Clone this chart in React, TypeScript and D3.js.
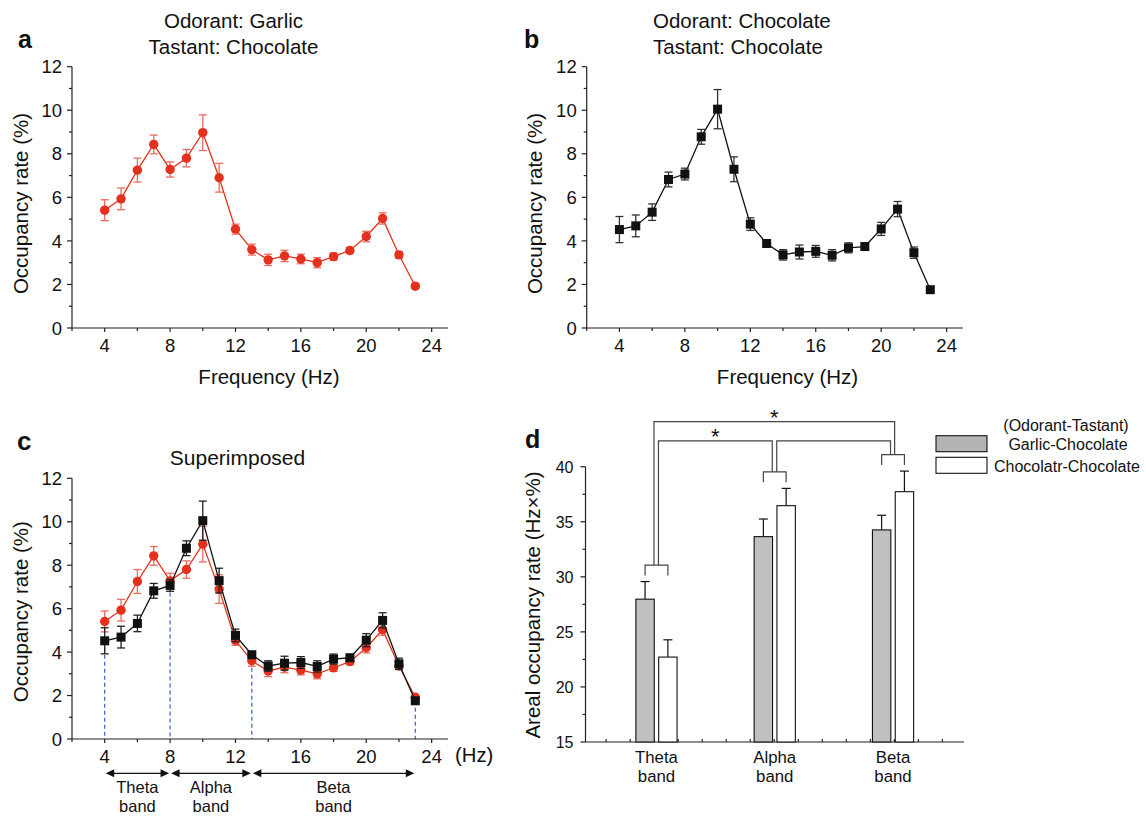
import React, { useEffect, useRef } from 'react';
import * as d3 from 'd3';

// frequency-resolved occupancy (mean ± SEM)
const freqs = [4, 5, 6, 7, 8, 9, 10, 11, 12, 13, 14, 15, 16, 17, 18, 19, 20, 21, 22, 23];
const garlicMean = [5.41, 5.93, 7.25, 8.43, 7.28, 7.8, 8.97, 6.9, 4.54, 3.6, 3.13, 3.31, 3.17, 3.0, 3.28, 3.56, 4.2, 5.03, 3.36, 1.92];
const garlicErr = [0.48, 0.5, 0.55, 0.43, 0.35, 0.4, 0.82, 0.66, 0.23, 0.25, 0.26, 0.26, 0.22, 0.23, 0.17, 0.14, 0.24, 0.26, 0.15, 0.1];
const chocoMean = [4.52, 4.69, 5.32, 6.82, 7.07, 8.78, 10.05, 7.29, 4.77, 3.88, 3.36, 3.49, 3.52, 3.34, 3.68, 3.74, 4.55, 5.46, 3.46, 1.76];
const chocoErr = [0.6, 0.5, 0.38, 0.34, 0.27, 0.34, 0.9, 0.57, 0.29, 0.1, 0.24, 0.32, 0.27, 0.26, 0.23, 0.15, 0.3, 0.35, 0.26, 0.1];

const freqMajorTicks = [4, 8, 12, 16, 20, 24];
const freqMinorTicks = [2, 6, 10, 14, 18, 22];
const rateMajorTicks = [0, 2, 4, 6, 8, 10, 12];
const rateMinorTicks = [1, 3, 5, 7, 9, 11];

// band summary (panel d)
const bandNames = ['Theta', 'Alpha', 'Beta'];
const bandStart = [4, 8, 13];
const bandEnd = [8, 13, 23];
const areaGarlic = [27.97, 33.65, 34.26];
const areaGarlicErr = [1.6, 1.6, 1.33];
const areaChoco = [22.71, 36.46, 37.73];
const areaChocoErr = [1.57, 1.57, 1.87];
const areaMajorTicks = [15, 20, 25, 30, 35, 40];
const areaMinorTicks = [17.5, 22.5, 27.5, 32.5, 37.5];

// significance brackets
const sigFrom = ['Theta', 'Theta', 'Alpha'];
const sigTo = ['Beta', 'Alpha', 'Beta'];
const sigLevel = [44.1, 42.35, 42.35];
const sigMark = ['*', '*', ''];

const legendTitle = '(Odorant-Tastant)';
const legendLabels = ['Garlic-Chocolate', 'Chocolatr-Chocolate'];

const FONT = "'Liberation Sans', Arial, Helvetica, sans-serif";
const RED = '#e3311e';
const RED_ERR = '#ea6d60';
const BLACK = '#111';

function drawRateAxes(g, x, y) {
  const [x0, x1] = x.range();
  const y0 = y(0);
  const axis = g.append('g').attr('stroke', '#222').attr('stroke-width', 1.2);
  axis.append('line').attr('x1', x0).attr('x2', x1).attr('y1', y0).attr('y2', y0);
  axis.append('line').attr('x1', x0).attr('x2', x0).attr('y1', y0).attr('y2', y(12));
  freqMajorTicks.forEach((t) => {
    axis.append('line').attr('x1', x(t)).attr('x2', x(t)).attr('y1', y0).attr('y2', y0 + 4);
  });
  freqMinorTicks.forEach((t) => {
    axis.append('line').attr('x1', x(t)).attr('x2', x(t)).attr('y1', y0).attr('y2', y0 + 3);
  });
  rateMajorTicks.forEach((t) => {
    axis.append('line').attr('x1', x0 - 5).attr('x2', x0).attr('y1', y(t)).attr('y2', y(t));
  });
  rateMinorTicks.forEach((t) => {
    axis.append('line').attr('x1', x0 - 3).attr('x2', x0).attr('y1', y(t)).attr('y2', y(t));
  });

  const labels = g.append('g').attr('font-family', FONT).attr('font-size', 18.5).attr('fill', '#111');
  freqMajorTicks.forEach((t) => {
    labels.append('text').attr('x', x(t)).attr('y', y0 + 23.5).attr('text-anchor', 'middle').text(t);
  });
  rateMajorTicks.forEach((t) => {
    labels.append('text').attr('x', x0 - 10).attr('y', y(t)).attr('dy', '0.36em').attr('text-anchor', 'end').text(t);
  });
}

function drawSeries(g, x, y, means, errs, color, errColor, shape) {
  const pts = freqs.map((f, i) => ({ f, m: means[i], e: errs[i] }));
  const line = d3.line().x((d) => x(d.f)).y((d) => y(d.m));
  g.append('path').datum(pts).attr('d', line).attr('fill', 'none').attr('stroke', color).attr('stroke-width', 1.3);

  const eb = g.append('g').attr('stroke', errColor).attr('stroke-width', 1.3);
  pts.forEach((d) => {
    const cx = x(d.f);
    eb.append('line').attr('x1', cx).attr('x2', cx).attr('y1', y(d.m - d.e)).attr('y2', y(d.m + d.e));
    eb.append('line').attr('x1', cx - 4).attr('x2', cx + 4).attr('y1', y(d.m - d.e)).attr('y2', y(d.m - d.e));
    eb.append('line').attr('x1', cx - 4).attr('x2', cx + 4).attr('y1', y(d.m + d.e)).attr('y2', y(d.m + d.e));
  });

  if (shape === 'circle') {
    g.append('g').selectAll('circle').data(pts).enter().append('circle')
      .attr('cx', (d) => x(d.f)).attr('cy', (d) => y(d.m)).attr('r', 4.7).attr('fill', color);
  } else {
    g.append('g').selectAll('rect').data(pts).enter().append('rect')
      .attr('x', (d) => x(d.f) - 4.5).attr('y', (d) => y(d.m) - 4.5)
      .attr('width', 9).attr('height', 9).attr('fill', color);
  }
}

function yLabel(svg, cx, cy, text, size) {
  svg.append('text')
    .attr('transform', `translate(${cx},${cy}) rotate(-90)`)
    .attr('text-anchor', 'middle').attr('font-family', FONT).attr('font-size', size).attr('fill', '#111')
    .text(text);
}

function plainText(svg, x, y, text, size, anchor = 'middle', weight = 'normal') {
  svg.append('text').attr('x', x).attr('y', y).attr('text-anchor', anchor)
    .attr('font-family', FONT).attr('font-size', size).attr('font-weight', weight).attr('fill', '#111')
    .text(text);
}

const App = () => {
  const ref = useRef(null);

  useEffect(() => {
    const svg = d3.select(ref.current);
    svg.selectAll('*').remove();

    // ---------- panel a ----------
    const xa = d3.scaleLinear().domain([2, 25]).range([72, 448]);
    const ya = d3.scaleLinear().domain([0, 12]).range([328, 66.7]);
    const ga = svg.append('g');
    drawRateAxes(ga, xa, ya);
    drawSeries(ga, xa, ya, garlicMean, garlicErr, RED, RED_ERR, 'circle');
    plainText(svg, 18, 48, 'a', 25, 'start', 'bold');
    plainText(svg, 233.5, 27.5, 'Odorant: Garlic', 20.5);
    plainText(svg, 233.5, 53.5, 'Tastant: Chocolate', 20.5);
    plainText(svg, 269, 383.5, 'Frequency (Hz)', 20.5);
    yLabel(svg, 27.5, 203.5, 'Occupancy rate (%)', 20.5);

    // ---------- panel b ----------
    const xb = d3.scaleLinear().domain([2, 25]).range([586.7, 963]);
    const yb = d3.scaleLinear().domain([0, 12]).range([328, 66.7]);
    const gb = svg.append('g');
    drawRateAxes(gb, xb, yb);
    drawSeries(gb, xb, yb, chocoMean, chocoErr, BLACK, '#333', 'square');
    plainText(svg, 524, 48, 'b', 25, 'start', 'bold');
    plainText(svg, 653, 27.5, 'Odorant: Chocolate', 20.5, 'start');
    plainText(svg, 653, 53.5, 'Tastant: Chocolate', 20.5, 'start');
    plainText(svg, 787.5, 383.5, 'Frequency (Hz)', 20.5);
    yLabel(svg, 542, 203.5, 'Occupancy rate (%)', 20.5);

    // ---------- panel c ----------
    const xc = d3.scaleLinear().domain([2, 25]).range([72, 448]);
    const yc = d3.scaleLinear().domain([0, 12]).range([739, 478.3]);
    const gc = svg.append('g');
    const edges = Array.from(new Set([...bandStart, ...bandEnd])).sort((p, q) => p - q);
    edges.forEach((f) => {
      const i = freqs.indexOf(f);
      const top = Math.min(garlicMean[i], chocoMean[i]);
      gc.append('line').attr('x1', xc(f)).attr('x2', xc(f)).attr('y1', yc(top)).attr('y2', yc(0))
        .attr('stroke', '#3b5fc8').attr('stroke-width', 1.2).attr('stroke-dasharray', '4,3');
    });
    drawRateAxes(gc, xc, yc);
    drawSeries(gc, xc, yc, garlicMean, garlicErr, RED, RED_ERR, 'circle');
    drawSeries(gc, xc, yc, chocoMean, chocoErr, BLACK, '#222', 'square');
    plainText(svg, 17, 450, 'c', 26, 'start', 'bold');
    plainText(svg, 237.5, 465, 'Superimposed', 21);
    plainText(svg, 455, 762, '(Hz)', 20.3, 'start');
    yLabel(svg, 27.5, 611.7, 'Occupancy rate (%)', 20.5);

    // band arrows
    const arrowY = 773.3;
    const ga2 = svg.append('g');
    bandNames.forEach((name, i) => {
      const xs = xc(bandStart[i]) + 1;
      const xe = xc(bandEnd[i]) - 1;
      ga2.append('line').attr('x1', xs + 4).attr('x2', xe - 4).attr('y1', arrowY).attr('y2', arrowY)
        .attr('stroke', '#111').attr('stroke-width', 1.3);
      ga2.append('path').attr('d', `M${xs},${arrowY} l8.5,-4 l0,8 Z`).attr('fill', '#111');
      ga2.append('path').attr('d', `M${xe},${arrowY} l-8.5,-4 l0,8 Z`).attr('fill', '#111');
      const mid = xc((bandStart[i] + bandEnd[i]) / 2);
      plainText(svg, mid, 793, name, 16.5);
      plainText(svg, mid, 811.5, 'band', 16.5);
    });

    // ---------- panel d ----------
    const yd = d3.scaleLinear().domain([15, 40]).range([742, 466.7]);
    const xd = d3.scalePoint().domain(bandNames).range([585.5, 964]).padding(0.6);
    const [dl, dr] = xd.range();
    const gd = svg.append('g');
    const barW = 18.4;
    const gap = 2.2;

    // x axis minor ticks
    const xMinor = d3.scaleLinear().domain([-0.86, 14.9]).range([dl, dr]);
    const axd = gd.append('g').attr('stroke', '#222').attr('stroke-width', 1.2);
    d3.range(0, 15).forEach((t) => {
      axd.append('line').attr('x1', xMinor(t)).attr('x2', xMinor(t)).attr('y1', yd(15)).attr('y2', yd(15) - 3);
    });

    const bars = bandNames.map((name, i) => {
      const c = xd(name);
      return [
        { x: c - gap - barW, v: areaGarlic[i], e: areaGarlicErr[i], fill: '#c0c0c0' },
        { x: c + gap, v: areaChoco[i], e: areaChocoErr[i], fill: '#fff' },
      ];
    });
    bars.flat().forEach((b) => {
      const cx = b.x + barW / 2;
      gd.append('line').attr('x1', cx).attr('x2', cx).attr('y1', yd(b.v)).attr('y2', yd(b.v + b.e))
        .attr('stroke', '#111').attr('stroke-width', 1.2);
      gd.append('line').attr('x1', cx - 4.5).attr('x2', cx + 4.5).attr('y1', yd(b.v + b.e)).attr('y2', yd(b.v + b.e))
        .attr('stroke', '#111').attr('stroke-width', 1.2);
      gd.append('rect').attr('x', b.x).attr('y', yd(b.v)).attr('width', barW).attr('height', yd(15) - yd(b.v))
        .attr('fill', b.fill).attr('stroke', '#111').attr('stroke-width', 1.1);
    });

    axd.append('line').attr('x1', dl).attr('x2', dr).attr('y1', yd(15)).attr('y2', yd(15));
    axd.append('line').attr('x1', dl).attr('x2', dl).attr('y1', yd(15)).attr('y2', yd(40));
    areaMajorTicks.forEach((t) => {
      axd.append('line').attr('x1', dl - 5).attr('x2', dl).attr('y1', yd(t)).attr('y2', yd(t));
      plainText(svg, dl - 12, yd(t) + 5.8, String(t), 16, 'end');
    });
    areaMinorTicks.forEach((t) => {
      axd.append('line').attr('x1', dl - 3).attr('x2', dl).attr('y1', yd(t)).attr('y2', yd(t));
    });

    // category labels
    bandNames.forEach((name) => {
      plainText(svg, xd(name), 763, name, 16.8);
      plainText(svg, xd(name), 782, 'band', 16.8);
    });

    // small pair brackets above each band
    const brk = gd.append('g').attr('stroke', '#444').attr('stroke-width', 1.2).attr('fill', 'none');
    const brTop = {};
    bandNames.forEach((name, i) => {
      const top = Math.max(areaGarlic[i] + areaGarlicErr[i], areaChoco[i] + areaChocoErr[i]) + 1.5;
      const [g1, g2] = bars[i];
      const x1 = g1.x + barW / 2;
      const x2 = g2.x + barW / 2;
      brk.append('path').attr('d', `M${x1},${yd(top - 0.95)} V${yd(top)} H${x2} V${yd(top - 0.95)}`);
      brTop[name] = yd(top);
    });

    // significance connectors
    const outer = d3.max(sigLevel);
    sigFrom.forEach((from, i) => {
      const isOuter = sigLevel[i] === outer;
      const xl = xd(from) + (isOuter ? -2.5 : 2);
      const xr = xd(sigTo[i]) + (isOuter ? 1.6 : -2.5);
      const ly = yd(sigLevel[i]);
      brk.append('path').attr('d', `M${xl},${brTop[from]} V${ly} H${xr} V${brTop[sigTo[i]]}`);
      if (sigMark[i]) plainText(svg, (xl + xr) / 2, ly + 3.5, sigMark[i], 22);
    });

    plainText(svg, 525, 448, 'd', 25, 'start', 'bold');
    yLabel(svg, 540, 605, 'Areal occupancy rate (Hz×%)', 20.5);

    // legend
    plainText(svg, 1066, 431, legendTitle, 16);
    svg.append('rect').attr('x', 936).attr('y', 435.7).attr('width', 51).attr('height', 16)
      .attr('fill', '#b4b4b4').attr('stroke', '#111').attr('stroke-width', 1.1);
    svg.append('rect').attr('x', 936).attr('y', 457.3).attr('width', 51).attr('height', 16)
      .attr('fill', '#fff').attr('stroke', '#111').attr('stroke-width', 1.1);
    plainText(svg, 1068, 450, legendLabels[0], 16);
    plainText(svg, 994, 472, legendLabels[1], 16, 'start');
  }, []);

  return (
    <svg
      ref={ref}
      width={1146}
      height={816}
      style={{ position: 'absolute', left: 0, top: 0, background: '#fff' }}
    />
  );
};

export default App;
